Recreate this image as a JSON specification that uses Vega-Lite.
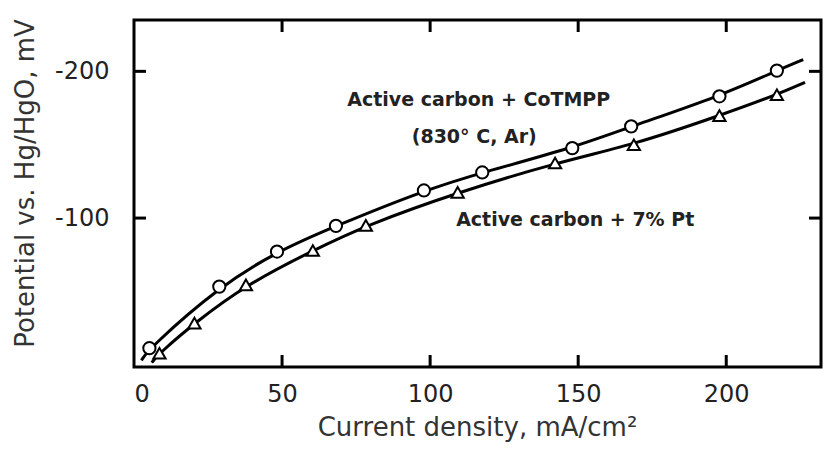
{
  "$schema": "https://vega.github.io/schema/vega-lite/v6.json",
  "width": 687,
  "height": 347,
  "autosize": {"type": "none"},
  "padding": {"left": 134, "top": 20, "right": 3, "bottom": 84},
  "background": "white",
  "config": {
    "view": {"stroke": "black", "strokeWidth": 3}
  },
  "datasets": {
    "pts": [
      {"series": "CoTMPP", "j": 5.2, "E": -11.3},
      {"series": "CoTMPP", "j": 28.8, "E": -53.3},
      {"series": "CoTMPP", "j": 48.3, "E": -77.2},
      {"series": "CoTMPP", "j": 68.2, "E": -94.7},
      {"series": "CoTMPP", "j": 97.9, "E": -118.8},
      {"series": "CoTMPP", "j": 117.6, "E": -131.1},
      {"series": "CoTMPP", "j": 148.0, "E": -147.7},
      {"series": "CoTMPP", "j": 167.9, "E": -162.5},
      {"series": "CoTMPP", "j": 197.7, "E": -183.0},
      {"series": "CoTMPP", "j": 217.1, "E": -200.5},
      {"series": "Pt", "j": 8.6, "E": -7.9},
      {"series": "Pt", "j": 20.4, "E": -28.4},
      {"series": "Pt", "j": 37.8, "E": -54.5},
      {"series": "Pt", "j": 60.4, "E": -77.9},
      {"series": "Pt", "j": 78.3, "E": -95.0},
      {"series": "Pt", "j": 109.3, "E": -117.5},
      {"series": "Pt", "j": 142.2, "E": -137.5},
      {"series": "Pt", "j": 168.8, "E": -150.0},
      {"series": "Pt", "j": 197.7, "E": -169.8},
      {"series": "Pt", "j": 217.1, "E": -184.1}
    ],
    "curve": [
      {"series": "CoTMPP", "j": 2.5, "E": -3.0},
      {"series": "CoTMPP", "j": 5.2, "E": -11.3},
      {"series": "CoTMPP", "j": 28.8, "E": -53.3},
      {"series": "CoTMPP", "j": 48.3, "E": -77.2},
      {"series": "CoTMPP", "j": 68.2, "E": -94.7},
      {"series": "CoTMPP", "j": 97.9, "E": -118.8},
      {"series": "CoTMPP", "j": 117.6, "E": -131.1},
      {"series": "CoTMPP", "j": 148.0, "E": -147.7},
      {"series": "CoTMPP", "j": 167.9, "E": -162.5},
      {"series": "CoTMPP", "j": 197.7, "E": -183.0},
      {"series": "CoTMPP", "j": 217.1, "E": -200.5},
      {"series": "CoTMPP", "j": 226.0, "E": -208.0},
      {"series": "Pt", "j": 6.0, "E": -1.5},
      {"series": "Pt", "j": 8.6, "E": -7.9},
      {"series": "Pt", "j": 20.4, "E": -28.4},
      {"series": "Pt", "j": 37.8, "E": -54.5},
      {"series": "Pt", "j": 60.4, "E": -77.9},
      {"series": "Pt", "j": 78.3, "E": -95.0},
      {"series": "Pt", "j": 109.3, "E": -117.5},
      {"series": "Pt", "j": 142.2, "E": -137.5},
      {"series": "Pt", "j": 168.8, "E": -150.0},
      {"series": "Pt", "j": 197.7, "E": -169.8},
      {"series": "Pt", "j": 217.1, "E": -184.1},
      {"series": "Pt", "j": 226.6, "E": -192.5}
    ],
    "labels": [
      {"text": "Active carbon + CoTMPP", "j": 116.4, "E": -180.7},
      {"text": "(830° C, Ar)", "j": 114.9, "E": -155.5},
      {"text": "Active carbon + 7% Pt", "j": 149.0, "E": -98.8}
    ],
    "xticks": [{"pos": 50}, {"pos": 100}, {"pos": 150}, {"pos": 200}],
    "yticks": [{"pos": -200}, {"pos": -100}]
  },
  "layer": [
    {
      "data": {"name": "curve"},
      "mark": {"type": "line", "color": "black", "strokeWidth": 3, "interpolate": "basis"},
      "encoding": {
        "x": {
          "field": "j", "type": "quantitative",
          "scale": {"domain": [0, 232], "nice": false, "zero": false},
          "axis": {
            "orient": "bottom",
            "grid": false,
            "domain": false,
            "ticks": true,
            "tickSize": 0,
            "tickOpacity": 0,
            "values": [0, 50, 100, 150, 200],
            "labelFont": "DejaVu Sans",
            "labelFontSize": 24,
            "labelColor": "#222",
            "labelPadding": 27,
            "labelBaseline": "middle",
            "title": "Current density, mA/cm²",
            "titleFont": "DejaVu Sans",
            "titleFontSize": 26,
            "titleFontWeight": "normal",
            "titleColor": "#333",
            "titleX": 343,
            "titleY": 60,
            "titleBaseline": "middle",
            "titleAnchor": "middle"
          }
        },
        "y": {
          "field": "E", "type": "quantitative",
          "scale": {"domain": [-235, 1.5], "reverse": true, "nice": false, "zero": false},
          "axis": {
            "orient": "left",
            "grid": false,
            "domain": false,
            "ticks": true,
            "tickSize": 0,
            "tickOpacity": 0,
            "values": [-200, -100],
            "labelExpr": "'-' + abs(datum.value)",
            "labelFont": "DejaVu Sans",
            "labelFontSize": 24,
            "labelColor": "#222",
            "labelPadding": 25,
            "title": "Potential vs. Hg/HgO, mV",
            "titleFont": "DejaVu Sans",
            "titleFontSize": 26,
            "titleFontWeight": "normal",
            "titleColor": "#333",
            "titleX": -109,
            "titleY": 163,
            "titleBaseline": "middle",
            "titleAngle": -90,
            "titleAnchor": "middle"
          }
        },
        "detail": {"field": "series"}
      }
    },
    {
      "data": {"name": "pts"},
      "mark": {"type": "point", "filled": true, "fill": "white", "stroke": "black", "strokeWidth": 2, "size": 150, "opacity": 1},
      "encoding": {
        "x": {"field": "j", "type": "quantitative"},
        "y": {"field": "E", "type": "quantitative"},
        "shape": {
          "field": "series", "type": "nominal",
          "scale": {"domain": ["CoTMPP", "Pt"], "range": ["circle", "triangle-up"]},
          "legend": null
        }
      }
    },
    {
      "data": {"name": "labels"},
      "mark": {"type": "text", "font": "DejaVu Sans", "fontWeight": "bold", "fontSize": 19, "color": "#222", "align": "center", "baseline": "middle"},
      "encoding": {
        "x": {"field": "j", "type": "quantitative"},
        "y": {"field": "E", "type": "quantitative"},
        "text": {"field": "text"}
      }
    },
    {
      "data": {"name": "xticks"},
      "mark": {"type": "tick", "orient": "vertical", "size": 24, "thickness": 3, "color": "black", "opacity": 1, "clip": true},
      "encoding": {
        "x": {"field": "pos", "type": "quantitative"},
        "y": {"datum": 1.5, "type": "quantitative"}
      }
    },
    {
      "data": {"name": "xticks"},
      "mark": {"type": "tick", "orient": "vertical", "size": 24, "thickness": 3, "color": "black", "opacity": 1, "clip": true},
      "encoding": {
        "x": {"field": "pos", "type": "quantitative"},
        "y": {"datum": -235, "type": "quantitative"}
      }
    },
    {
      "data": {"name": "yticks"},
      "mark": {"type": "tick", "orient": "horizontal", "size": 24, "thickness": 3, "color": "black", "opacity": 1, "clip": true},
      "encoding": {
        "x": {"datum": 0, "type": "quantitative"},
        "y": {"field": "pos", "type": "quantitative"}
      }
    },
    {
      "data": {"name": "yticks"},
      "mark": {"type": "tick", "orient": "horizontal", "size": 24, "thickness": 3, "color": "black", "opacity": 1, "clip": true},
      "encoding": {
        "x": {"datum": 232, "type": "quantitative"},
        "y": {"field": "pos", "type": "quantitative"}
      }
    }
  ]
}
